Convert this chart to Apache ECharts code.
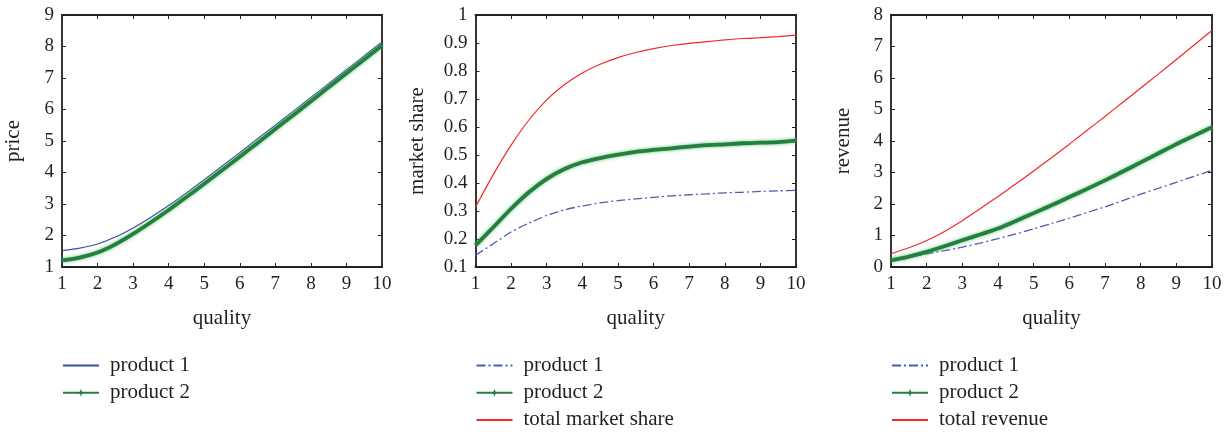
<!DOCTYPE html>
<html>
<head>
<meta charset="utf-8">
<script src="https://cdn.jsdelivr.net/npm/echarts@6/dist/echarts.min.js"></script>
<style>
html,body{margin:0;padding:0;background:#fff;}
#chart{width:1230px;height:432px;}
</style>
</head>
<body>
<div id="chart"></div>
<script>
// ---------- data ----------
const quality = [1, 1.5, 2, 2.5, 3, 3.5, 4, 4.5, 5, 5.5, 6, 6.5, 7, 7.5, 8, 8.5, 9, 9.5, 10];

const priceP1 = [1.52, 1.60, 1.73, 1.95, 2.24, 2.58, 2.95, 3.35, 3.77, 4.20, 4.63, 5.07, 5.50, 5.94, 6.38, 6.82, 7.26, 7.70, 8.14];
const priceP2 = [1.21, 1.30, 1.46, 1.72, 2.05, 2.42, 2.81, 3.22, 3.64, 4.07, 4.50, 4.94, 5.38, 5.82, 6.26, 6.71, 7.15, 7.59, 8.03];

const shareP1 = [0.142, 0.183, 0.225, 0.257, 0.284, 0.304, 0.318, 0.329, 0.337, 0.343, 0.349, 0.354, 0.358, 0.361, 0.365, 0.367, 0.370, 0.372, 0.374];
const shareP2 = [0.177, 0.242, 0.308, 0.367, 0.415, 0.450, 0.474, 0.489, 0.501, 0.511, 0.518, 0.524, 0.530, 0.535, 0.538, 0.542, 0.544, 0.546, 0.551];
const shareTotal = [0.314, 0.430, 0.535, 0.625, 0.697, 0.752, 0.793, 0.824, 0.848, 0.866, 0.880, 0.891, 0.899, 0.905, 0.911, 0.916, 0.919, 0.923, 0.928];

const revenueP1 = [0.21, 0.31, 0.42, 0.52, 0.63, 0.76, 0.90, 1.05, 1.21, 1.38, 1.55, 1.73, 1.91, 2.11, 2.31, 2.50, 2.69, 2.88, 3.07];
const revenueP2 = [0.21, 0.33, 0.48, 0.66, 0.85, 1.03, 1.22, 1.46, 1.71, 1.96, 2.22, 2.48, 2.75, 3.03, 3.32, 3.61, 3.90, 4.17, 4.44];
const revenueTotal = [0.42, 0.61, 0.84, 1.13, 1.47, 1.85, 2.24, 2.64, 3.05, 3.47, 3.90, 4.34, 4.78, 5.23, 5.68, 6.13, 6.59, 7.05, 7.51];

// axis ranges: [min, max, interval]
const qualityAxis = [1, 10, 1];
const priceAxis = [1, 9, 1];
const shareAxis = [0.1, 1, 0.1];
const revenueAxis = [0, 8, 1];

const axisTitles = ['price', 'market share', 'revenue'];
const xTitle = 'quality';
const legendNames = [
  ['product 1', 'product 2'],
  ['product 1 ', 'product 2 ', 'total market share'],
  ['product 1  ', 'product 2  ', 'total revenue']
];
const starNames = ['product 2', 'product 2 ', 'product 2  '];

// ---------- styling ----------
const FONT = "'Liberation Serif', 'DejaVu Serif', serif";
const INK = '#231f20';
const BLUE = '#3b4fa7';
const BLUE_DASH = '#4a5db4';
const RED = '#f0282c';
const GREEN = '#23803f';
const STAR = 'path://M0,-10L2.6,-2.6L10,0L2.6,2.6L0,10L-2.6,2.6L-10,0L-2.6,-2.6Z';

const grids = [
  {left: 62, top: 15, width: 320, height: 252},
  {left: 475.5, top: 15, width: 320.5, height: 252},
  {left: 891, top: 15, width: 321, height: 252}
];
const yRanges = [priceAxis, shareAxis, revenueAxis];
const nameGaps = [38, 48, 37];

const pairs = arr => quality.map((q, i) => [q, arr[i]]);

const xAxes = [], yAxes = [];
grids.forEach((g, i) => {
  const common = {
    type: 'value', gridIndex: i,
    axisLine: {onZero: false, lineStyle: {color: INK, width: 1.8}},
    axisTick: {inside: true, length: 4, lineStyle: {color: INK, width: 1}},
    splitLine: {show: false}
  };
  xAxes.push(Object.assign({}, common, {
    position: 'bottom', min: qualityAxis[0], max: qualityAxis[1], interval: qualityAxis[2],
    axisLabel: {fontFamily: FONT, fontSize: 19, color: INK, margin: 8},
    name: xTitle, nameLocation: 'middle', nameGap: 41,
    nameTextStyle: {fontFamily: FONT, fontSize: 21, color: INK}
  }));
  xAxes.push(Object.assign({}, common, {
    position: 'top', min: qualityAxis[0], max: qualityAxis[1], interval: qualityAxis[2],
    axisLabel: {show: false}
  }));
  const yr = yRanges[i];
  yAxes.push(Object.assign({}, common, {
    position: 'left', min: yr[0], max: yr[1], interval: yr[2],
    axisLabel: {fontFamily: FONT, fontSize: 19, color: INK, margin: 8},
    name: axisTitles[i], nameLocation: 'middle', nameGap: nameGaps[i],
    nameTextStyle: {fontFamily: FONT, fontSize: 21, color: INK}
  }));
  yAxes.push(Object.assign({}, common, {
    position: 'right', min: yr[0], max: yr[1], interval: yr[2],
    axisLabel: {show: false}
  }));
});

function solidLine(name, grid, arr, color) {
  return {
    name, type: 'line', xAxisIndex: 2 * grid, yAxisIndex: 2 * grid,
    data: pairs(arr), symbol: 'none', smooth: 0.25,
    lineStyle: {color, width: 1.2}, itemStyle: {color, opacity: 0}
  };
}
function dashLine(name, grid, arr) {
  return {
    name, type: 'line', xAxisIndex: 2 * grid, yAxisIndex: 2 * grid,
    data: pairs(arr), symbol: 'none', smooth: 0.25,
    lineStyle: {color: BLUE_DASH, width: 1.3, type: [9, 3, 2, 3]}, itemStyle: {color: BLUE_DASH, opacity: 0}
  };
}
function starLine(name, grid, arr) {
  return {
    name, type: 'line', xAxisIndex: 2 * grid, yAxisIndex: 2 * grid,
    data: pairs(arr), symbol: STAR, symbolSize: 7, showSymbol: false,
    smooth: 0.25,
    lineStyle: {color: GREEN, width: 3.8, shadowColor: 'rgba(90,185,110,0.95)', shadowBlur: 3.5},
    itemStyle: {color: GREEN}
  };
}

const series = [
  solidLine(legendNames[0][0], 0, priceP1, BLUE),
  starLine(legendNames[0][1], 0, priceP2),
  dashLine(legendNames[1][0], 1, shareP1),
  starLine(legendNames[1][1], 1, shareP2),
  solidLine(legendNames[1][2], 1, shareTotal, RED),
  dashLine(legendNames[2][0], 2, revenueP1),
  starLine(legendNames[2][1], 2, revenueP2),
  solidLine(legendNames[2][2], 2, revenueTotal, RED)
];

const legends = grids.map((g, i) => ({
  orient: 'vertical', left: g.left, top: 355, height: 120, padding: 0,
  itemWidth: 36, itemHeight: 10, itemGap: 6.2,
  selectedMode: false,
  data: legendNames[i].map(n => starNames.includes(n)
    ? {name: n}
    : {name: n, itemStyle: {opacity: 0}}),
  textStyle: {fontFamily: FONT, fontSize: 21, color: INK, lineHeight: 20, padding: [0, 0, 0, 6]}
}));

const chart = echarts.init(document.getElementById('chart'), null, {renderer: 'canvas'});
chart.setOption({
  animation: false,
  backgroundColor: '#ffffff',
  grid: grids,
  xAxis: xAxes,
  yAxis: yAxes,
  legend: legends,
  series
});
</script>
</body>
</html>
